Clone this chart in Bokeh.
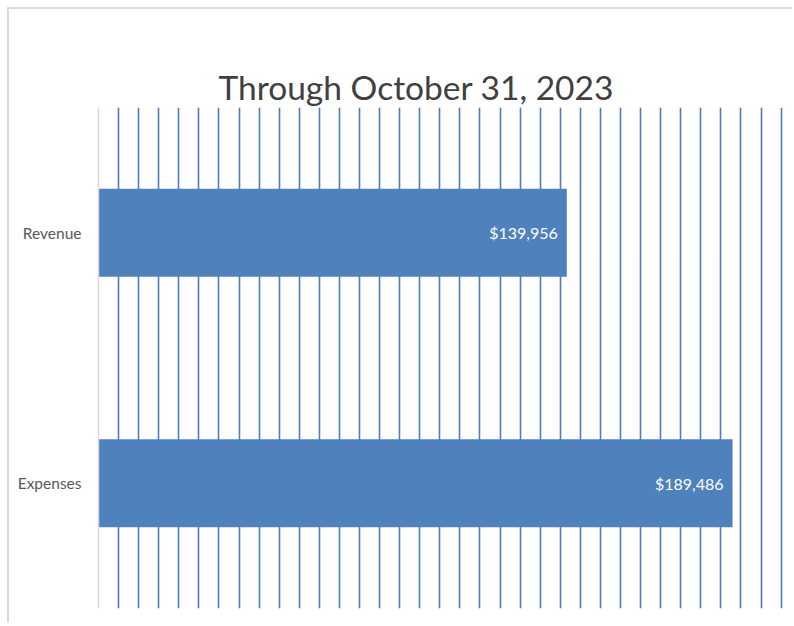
from bokeh.plotting import figure
from bokeh.models import FixedTicker, ColumnDataSource, FactorRange, Range1d
from bokeh.core.properties import value
from bokeh.embed import file_html
from bokeh.resources import INLINE

categories = ["Expenses", "Revenue"]
amounts = [189486, 139956]
labels = ["${:,}".format(v) for v in amounts]
grid_ticks = list(range(6000, 204001, 6000))
title_text = "Through October 31, 2023"

FONT = "Lato"

src = ColumnDataSource(dict(cat=categories, amt=amounts, lab=labels))

p = figure(width=785, height=615, output_backend="svg", toolbar_location=None,
           y_range=FactorRange(*categories), x_range=Range1d(0, 208000),
           min_border_left=89, min_border_right=0, min_border_top=98, min_border_bottom=16)
p.styles = {"margin-left": "7px", "margin-top": "7px",
            "border-top": "2px solid #d9d9d9", "border-left": "2px solid #d9d9d9"}
p.outline_line_color = None
p.background_fill_color = "white"
p.border_fill_color = "white"

p.title.text = title_text
p.title.align = "left"
p.title.offset = 120
p.title.standoff = 2
p.title.text_font = FONT
p.title.text_font_style = "normal"
p.title.text_font_size = "33.5px"
p.title.text_color = "#404040"

p.hbar(y="cat", right="amt", left=0, height=0.352, source=src,
       fill_color="#4f81bd", line_color=None)
p.text(x="amt", y="cat", text="lab", source=src, text_align="right",
       text_baseline="middle", x_offset=-9, text_color="white",
       text_font=value(FONT), text_font_size="16px")

p.xaxis.visible = False
p.xgrid.ticker = FixedTicker(ticks=grid_ticks)
p.xgrid.grid_line_color = "#4a7ebb"
p.xgrid.grid_line_width = 1.6
p.ygrid.grid_line_color = None

ya = p.yaxis[0]
ya.axis_line_color = "#d9d9d9"
ya.axis_line_width = 1.5
ya.major_tick_line_color = None
ya.minor_tick_line_color = None
ya.major_tick_out = 0
ya.major_tick_in = 0
ya.major_label_standoff = 17
ya.major_label_text_font = FONT
ya.major_label_text_font_size = "15.5px"
ya.major_label_text_color = "#595959"

open("out.html", "w").write(file_html(p, INLINE))
